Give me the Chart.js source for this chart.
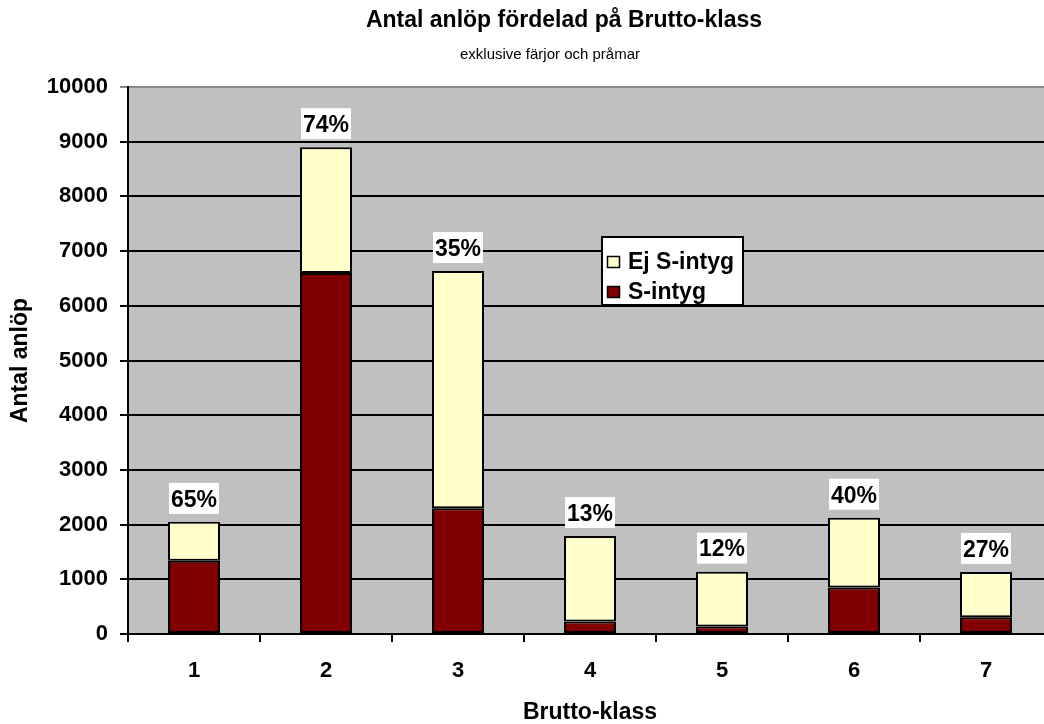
<!DOCTYPE html>
<html>
<head>
<meta charset="utf-8">
<script src="https://cdn.jsdelivr.net/npm/chart.js@4.4.0/dist/chart.umd.min.js"></script>
<style>
  html, body { margin: 0; padding: 0; background: #fff; overflow: hidden; }
  #wrap { position: relative; width: 1056px; height: 724px; }
</style>
</head>
<body>
<div id="wrap"><canvas id="c"></canvas></div>
<script>
// Gross-tonnage classes and number of port calls per class
const categories = ['1', '2', '3', '4', '5', '6', '7'];
const sIntyg = [1340, 6600, 2300, 230, 135, 850, 305];     // calls with S-intyg
const ejSIntyg = [710, 2300, 4335, 1560, 1005, 1275, 830];  // calls without S-intyg
const seriesNames = ['S-intyg', 'Ej S-intyg'];
const yMin = 0, yMax = 10000, yStep = 1000;

const titleText = 'Antal anlöp fördelad på Brutto-klass';
const subtitleText = 'exklusive färjor och pråmar';
const xTitleText = 'Brutto-klass';
const yTitleText = 'Antal anlöp';

const FONT = '"Liberation Sans", Arial, Helvetica, sans-serif';
const COL_S = '#800000';
const COL_EJ = '#FFFFCC';

// grey plot background
const plotBg = {
  id: 'plotBg',
  beforeDraw(chart) {
    const { ctx, chartArea: a } = chart;
    ctx.save();
    ctx.fillStyle = '#C0C0C0';
    ctx.fillRect(a.left, a.top, a.right - a.left, a.bottom - a.top);
    ctx.restore();
  }
};

// heading and sub-heading
const headings = {
  id: 'headings',
  afterDraw(chart) {
    const ctx = chart.ctx;
    ctx.save();
    ctx.fillStyle = '#000';
    ctx.textAlign = 'center';
    ctx.textBaseline = 'middle';
    ctx.font = 'bold 23px ' + FONT;
    ctx.fillText(titleText, 564, 21);
    ctx.font = '15px ' + FONT;
    ctx.fillText(subtitleText, 550, 55);
    ctx.restore();
  }
};

// share of S-intyg printed above each stacked bar
const shareLabels = {
  id: 'shareLabels',
  afterDatasetsDraw(chart) {
    const ctx = chart.ctx;
    const yScale = chart.scales.y;
    const topMeta = chart.getDatasetMeta(1);
    ctx.save();
    ctx.font = 'bold 23px ' + FONT;
    ctx.textAlign = 'center';
    ctx.textBaseline = 'middle';
    categories.forEach((c, i) => {
      const total = sIntyg[i] + ejSIntyg[i];
      const txt = Math.round(sIntyg[i] / total * 100) + '%';
      const x = topMeta.data[i].x;
      const yTop = yScale.getPixelForValue(total);
      const w = ctx.measureText(txt).width + 4;
      const h = 31;
      const bottom = yTop - 8;
      ctx.fillStyle = '#fff';
      ctx.fillRect(x - w / 2, bottom - h, w, h);
      ctx.fillStyle = '#000';
      ctx.fillText(txt, x, bottom - h / 2 + 2);
    });
    ctx.restore();
  }
};

// boxed legend inside the plot
const boxLegend = {
  id: 'boxLegend',
  afterDraw(chart) {
    const ctx = chart.ctx;
    const x0 = 602, y0 = 237, w = 141, h = 68;
    ctx.save();
    ctx.fillStyle = '#fff';
    ctx.fillRect(x0, y0, w, h);
    ctx.strokeStyle = '#000';
    ctx.lineWidth = 2;
    ctx.strokeRect(x0, y0, w, h);
    ctx.font = 'bold 23px ' + FONT;
    ctx.textAlign = 'left';
    ctx.textBaseline = 'middle';
    const order = [1, 0];
    order.forEach((di, row) => {
      const ds = chart.data.datasets[di];
      const cy = y0 + 25 + row * 30;
      ctx.fillStyle = ds.backgroundColor;
      ctx.fillRect(607, cy - 6, 13, 12);
      ctx.lineWidth = 1.5;
      ctx.strokeRect(607.5, cy - 5.5, 12, 11);
      ctx.fillStyle = '#000';
      ctx.fillText(ds.label, 628, cy + 1);
    });
    ctx.restore();
  }
};

new Chart(document.getElementById('c'), {
  type: 'bar',
  data: {
    labels: categories,
    datasets: [
      {
        label: seriesNames[0],
        data: sIntyg,
        backgroundColor: COL_S,
        borderColor: '#000',
        borderWidth: 2,
        borderSkipped: false
      },
      {
        label: seriesNames[1],
        data: ejSIntyg,
        backgroundColor: COL_EJ,
        borderColor: '#000',
        borderWidth: 2,
        borderSkipped: false
      }
    ]
  },
  options: {
    responsive: true,
    maintainAspectRatio: false,
    animation: false,
    events: [],
    layout: { padding: { top: 87, right: 4, bottom: 0, left: 0 } },
    datasets: { bar: { categoryPercentage: 1.0, barPercentage: 0.394 } },
    plugins: {
      legend: { display: false },
      title: { display: false },
      tooltip: { enabled: false }
    },
    scales: {
      x: {
        stacked: true,
        offset: true,
        grid: {
          offset: true,
          drawOnChartArea: false,
          drawTicks: true,
          tickLength: 8,
          color: '#000',
          lineWidth: 2
        },
        border: { display: true, color: '#000', width: 2 },
        ticks: {
          color: '#000',
          padding: 16,
          font: { family: FONT, size: 22, weight: 'bold' }
        },
        title: {
          display: true,
          text: xTitleText,
          color: '#000',
          font: { family: FONT, size: 23, weight: 'bold', lineHeight: 1 },
          padding: { top: 0, bottom: 0 }
        },
        afterFit(scale) { scale.height = 90; }
      },
      y: {
        stacked: true,
        min: yMin,
        max: yMax,
        ticks: {
          stepSize: yStep,
          color: '#000',
          padding: 12,
          font: { family: FONT, size: 22, weight: 'bold' },
          callback: (v) => String(v)
        },
        grid: {
          drawTicks: true,
          tickLength: 8,
          lineWidth: 2,
          color: (ctx) => (ctx.tick && ctx.tick.value === yMax) ? '#8a8a8a' : '#000'
        },
        border: { display: true, color: '#000', width: 2 },
        title: {
          display: true,
          text: yTitleText,
          color: '#000',
          font: { family: FONT, size: 23, weight: 'bold', lineHeight: 1.2 },
          padding: { top: 7, bottom: 0 }
        },
        afterFit(scale) { scale.width = 128; }
      }
    }
  },
  plugins: [plotBg, headings, shareLabels, boxLegend]
});
</script>
</body>
</html>
